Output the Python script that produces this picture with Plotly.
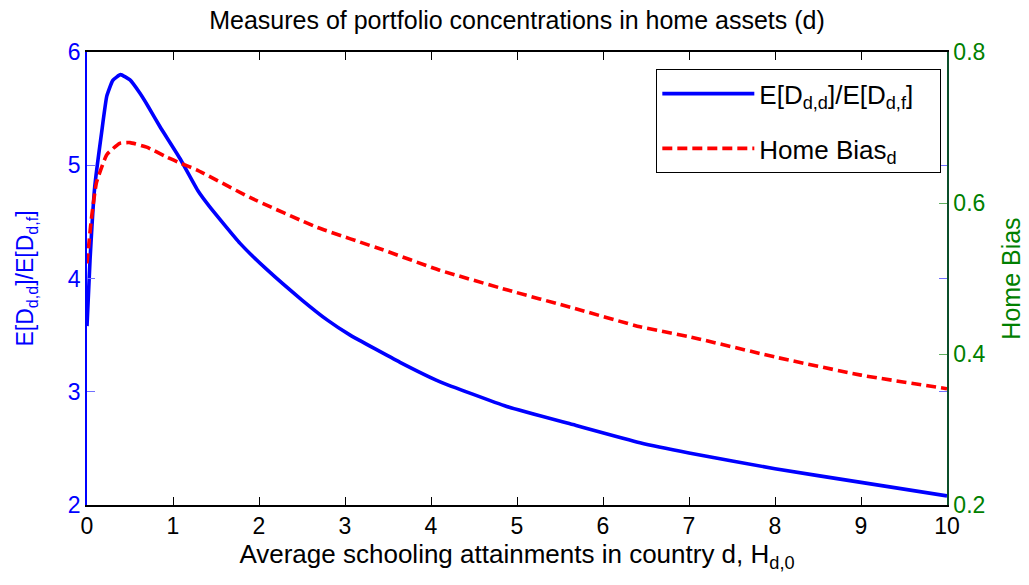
import plotly.graph_objects as go

# Data
x_ratio = [0, 0.035, 0.09, 0.17, 0.23, 0.30, 0.39, 0.5, 0.616, 0.713, 0.849, 1.081, 1.294,
           1.43, 1.78, 2.09, 2.5, 2.8, 3.06, 3.64, 4.1, 4.88, 5.65, 6.43, 7.0, 8.0, 9.0, 10.0]
ratio = [3.58, 4.16, 4.81, 5.29, 5.61, 5.75, 5.80, 5.753, 5.635, 5.517, 5.34, 5.06, 4.77,
         4.63, 4.31, 4.08, 3.81, 3.63, 3.50, 3.26, 3.09, 2.87, 2.71, 2.55, 2.46, 2.32, 2.20, 2.08]

x_bias = [0, 0.05, 0.11, 0.23, 0.38, 0.5, 0.694, 0.926, 1.081, 1.275, 1.9, 2.67, 3.44,
          4.1, 4.88, 5.65, 6.43, 7.0, 8.0, 9.0, 10.0]
home_bias = [0.52, 0.578, 0.627, 0.664, 0.679, 0.68, 0.674, 0.661, 0.653, 0.644, 0.607,
             0.568, 0.538, 0.511, 0.485, 0.461, 0.436, 0.423, 0.396, 0.372, 0.354]

x_ticks = list(range(0, 11))
left_ticks = [2, 3, 4, 5, 6]
right_ticks = [0.2, 0.4, 0.6, 0.8]

title_text = "Measures of portfolio concentrations in home assets (d)"
x_title = "Average schooling attainments in country d, H<sub>d,0</sub>"
left_title = "E[D<sub>d,d</sub>]/E[D<sub>d,f</sub>]"
right_title = "Home Bias"
name_ratio = "E[D<sub>d,d</sub>]/E[D<sub>d,f</sub>]&nbsp;&nbsp;&nbsp;"
name_bias = "Home Bias<sub>d</sub>"

FONT = "Liberation Sans, Arial, sans-serif"

fig = go.Figure()
fig.add_trace(go.Scatter(x=x_ratio, y=ratio, mode="lines", name=name_ratio, legendgroup="a",
                         line=dict(color="#0000FF", width=3.6, shape="spline", smoothing=0.4),
                         yaxis="y"))
fig.add_trace(go.Scatter(x=x_bias, y=home_bias, mode="lines", name=name_bias, legendgroup="b",
                         line=dict(color="#FF0000", width=3.6, dash="10px,5px", shape="spline", smoothing=0.4),
                         yaxis="y2"))

fig.update_layout(
    width=1029, height=585,
    margin=dict(l=87, r=82, t=52, b=80, autoexpand=False),
    paper_bgcolor="white", plot_bgcolor="white",
    font=dict(family=FONT, size=23, color="black"),
    title=dict(text=title_text, x=0.5, xanchor="center", xref="paper",
               y=0.965, yanchor="middle", font=dict(family=FONT, size=25, color="black")),
    showlegend=True,
    legend=dict(x=0.662, y=0.962, xanchor="left", yanchor="top",
                bgcolor="white", bordercolor="black", borderwidth=1,
                font=dict(family=FONT, size=26, color="black"),
                itemwidth=92, traceorder="grouped", tracegroupgap=18),
    xaxis=dict(range=[0, 10], tickvals=x_ticks, ticks="inside", ticklen=8, tickcolor="black",
               showline=True, linecolor="black", linewidth=1.5, mirror="ticks",
               showgrid=False, zeroline=False, automargin=False,
               tickfont=dict(family=FONT, size=23, color="black"),
               title=dict(text=x_title, font=dict(family=FONT, size=26, color="black"), standoff=4)),
    yaxis=dict(range=[2, 6], tickvals=left_ticks, ticks="inside", ticklen=8, tickcolor="#7070FF",
               showline=True, linecolor="#0000FF", linewidth=1.5, mirror="ticks",
               showgrid=False, zeroline=False, automargin=False,
               tickfont=dict(family=FONT, size=23, color="#0000FF"),
               title=dict(text=left_title, font=dict(family=FONT, size=23, color="#0000FF"), standoff=28)),
    yaxis2=dict(range=[0.2, 0.8], tickvals=right_ticks, tickformat=".1f", overlaying="y", side="right",
                ticks="inside", ticklen=8, tickcolor="#60B060",
                showline=True, linecolor="#0B4F2A", linewidth=1.5,
                showgrid=False, zeroline=False, automargin=False,
                tickfont=dict(family=FONT, size=23, color="#008000"),
                title=dict(text=right_title, font=dict(family=FONT, size=25, color="#008000"), standoff=18)),
)

fig.write_html("out.html", config={"displayModeBar": False},
               post_script="document.body.style.margin='0';document.body.style.overflow='hidden';")
